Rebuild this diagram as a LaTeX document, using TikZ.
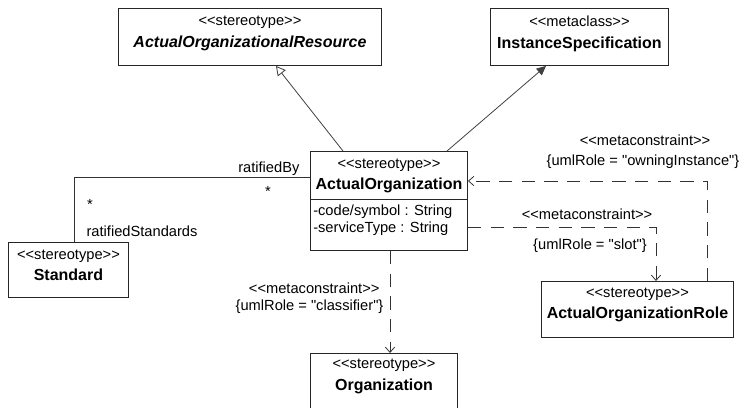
\documentclass[tikz,border=0pt]{standalone}
\usepackage{fontspec}
\setmainfont{Liberation Sans}[Ligatures=TeXOff]
\usetikzlibrary{arrows.meta,positioning}
\tikzset{
  cls/.style   ={draw=black!85,line width=0.7pt,fill=white,inner sep=0pt,
                 anchor=north west},
  ctxt/.style  ={align=center,inner sep=0pt,font=\fontsize{11}{14}\selectfont},
  atxt/.style  ={align=left,inner sep=0pt,anchor=north west,
                 font=\fontsize{11}{12.75}\selectfont},
  lab/.style   ={inner sep=1pt,font=\fontsize{11}{13}\selectfont},
  gen/.style   ={-{Triangle[open,length=7pt,width=7.5pt]},draw=black!75,line width=0.6pt},
  ext/.style   ={-{Triangle[length=7pt,width=6.5pt]},draw=black!75,line width=0.6pt},
  dep/.style   ={-{Straight Barb[length=4pt,width=7pt]},draw=black!80,line width=0.6pt,
                 dash pattern=on 10pt off 7pt},
  assoc/.style ={draw=black!80,line width=0.6pt},
}
\newcommand{\stereo}[1]{<<#1>>}
\newcommand{\cname}[1]{{\fontsize{12}{14}\selectfont\bfseries #1}}

\begin{document}
\begin{tikzpicture}[x=0.75pt,y=-0.75pt]
\useasboundingbox (0,0) rectangle (745,407);
%% classes
\node[cls,minimum width=197.25pt,minimum height=42.75pt] (aor)  at (118,8)   {};
\node[cls,minimum width=133.5pt, minimum height=42.75pt] (ins)  at (490,8)   {};
\node[cls,minimum width=117.75pt,minimum height=74.25pt] (ao)   at (310,151) {};
\node[cls,minimum width=90pt,    minimum height=41.25pt] (std)  at (8,242)   {};
\node[cls,minimum width=110.25pt,minimum height=41pt]    (org)  at (310,353) {};
\node[cls,minimum width=144pt,   minimum height=42pt]    (aorl) at (541,281) {};
\node[ctxt,below=6pt of aor.north]  (aorT)  {\stereo{stereotype}\\[2.5pt]%
  \cname{\itshape ActualOrganizationalResource}};
\node[ctxt,below=6pt of ins.north]  (insT)  {\stereo{metaclass}\\[2.5pt]%
  \cname{InstanceSpecification}};
\node[ctxt,below=5.5pt of ao.north] (aoT)   {\stereo{stereotype}\\[2pt]%
  \cname{ActualOrganization}};
\draw[draw=black!85,line width=0.6pt] (ao.west |- 0,199) -- (ao.east |- 0,199);
\node[atxt] (aoA) at (313,205) {-code/symbol : String\\-serviceType : String};
\node[ctxt,below=5.5pt of std.north] (stdT) {\stereo{stereotype}\\[2pt]%
  \cname{Standard}};
\node[ctxt,below=4.5pt of org.north] (orgT) {\stereo{stereotype}\\[2pt]%
  \cname{Organization}};
\node[ctxt,below=5pt of aorl.north] (aorlT) {\stereo{stereotype}\\[2pt]%
  \cname{ActualOrganizationRole}};
%% generalizations
\draw[gen] (343,0 |- ao.north) -- (276,0 |- aor.south);
\draw[ext] (447,0 |- ao.north) -- (546,0 |- ins.south);
%% association
\coordinate (ac) at (74,177);
\draw[assoc] (ao.west |- ac) -| (std.north -| ac);
\node[lab,anchor=east] (rb)  at (301,169) {ratifiedBy};
\node[lab]             (rbm) at (268,191) {*};
\node[lab]             (rsm) at (90,204)  {*};
\node[lab,anchor=west] (rs)  at (85,231)  {ratifiedStandards};
%% metaconstraints
\coordinate (d1) at (707,181);
\coordinate (d2) at (656,227);
\coordinate (d3) at (390,0);
\draw[dep] (aorl.north -| d1) |- (ao.east |- d1);
\draw[dep] (ao.east |- d2) -| (aorl.north -| d2);
\draw[dep] (ao.south -| d3) -- (org.north -| d3);
\node[lab] (m1)  at (645,140) {\stereo{metaconstraint}};
\node[lab] (m1r) at (643,162) {\{umlRole = "owningInstance"\}};
\node[lab] (m2)  at (587,214) {\stereo{metaconstraint}};
\node[lab] (m2r) at (590,246) {\{umlRole = "slot"\}};
\node[lab,anchor=east] (m3)  at (381,288) {\stereo{metaconstraint}};
\node[lab,anchor=east] (m3r) at (385,307) {\{umlRole = "classifier"\}};
\end{tikzpicture}
\end{document}
